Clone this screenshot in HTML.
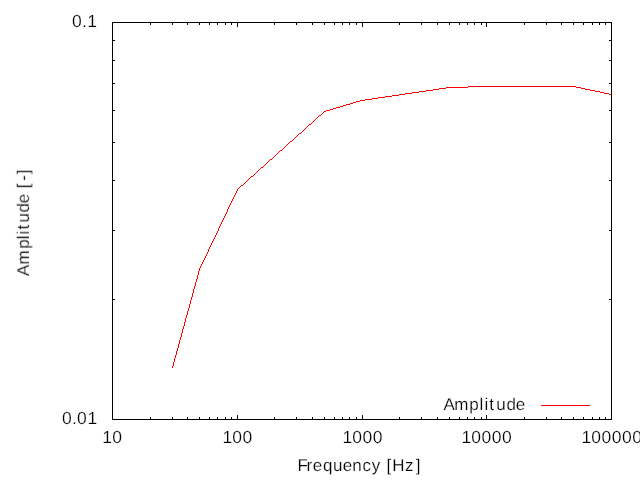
<!DOCTYPE html>
<html><head><meta charset="utf-8"><style>
html,body{margin:0;padding:0;background:#fff;}
svg{display:block;}
text{font-family:"Liberation Sans",sans-serif;fill:#000;}
.t{filter:grayscale(1);}
.t text{stroke:#fff;stroke-width:0.2px;}
</style></head><body>
<svg width="640" height="480" viewBox="0 0 640 480" shape-rendering="crispEdges">
<rect x="0" y="0" width="640" height="480" fill="#fff"/>
<g fill="#f00"><rect x="346" y="104" width="4" height="1"/><rect x="184" y="324" width="1" height="1"/><rect x="426" y="90" width="7" height="1"/><rect x="590" y="90" width="5" height="1"/><rect x="412" y="92" width="7" height="1"/><rect x="600" y="92" width="4" height="1"/><rect x="288" y="143" width="1" height="1"/><rect x="468" y="86" width="108" height="1"/><rect x="241" y="185" width="2" height="1"/><rect x="193" y="292" width="1" height="1"/><rect x="181" y="336" width="1" height="1"/><rect x="285" y="146" width="1" height="1"/><rect x="446" y="87" width="22" height="1"/><rect x="576" y="87" width="5" height="1"/><rect x="405" y="93" width="7" height="1"/><rect x="604" y="93" width="5" height="1"/><rect x="176" y="352" width="1" height="1"/><rect x="353" y="102" width="3" height="1"/><rect x="439" y="88" width="7" height="1"/><rect x="581" y="88" width="4" height="1"/><rect x="205" y="257" width="1" height="1"/><rect x="272" y="158" width="1" height="1"/><rect x="419" y="91" width="7" height="1"/><rect x="595" y="91" width="5" height="1"/><rect x="217" y="231" width="1" height="1"/><rect x="192" y="296" width="1" height="1"/><rect x="385" y="96" width="7" height="1"/><rect x="229" y="205" width="1" height="1"/><rect x="315" y="119" width="1" height="1"/><rect x="365" y="99" width="7" height="1"/><rect x="308" y="125" width="1" height="1"/><rect x="372" y="98" width="6" height="1"/><rect x="175" y="355" width="1" height="1"/><rect x="233" y="198" width="1" height="1"/><rect x="201" y="264" width="1" height="1"/><rect x="197" y="275" width="1" height="1"/><rect x="179" y="343" width="1" height="1"/><rect x="433" y="89" width="6" height="1"/><rect x="585" y="89" width="5" height="1"/><rect x="292" y="140" width="1" height="1"/><rect x="336" y="107" width="4" height="1"/><rect x="399" y="94" width="6" height="1"/><rect x="609" y="94" width="3" height="1"/><rect x="226" y="213" width="1" height="1"/><rect x="249" y="178" width="1" height="1"/><rect x="196" y="279" width="1" height="1"/><rect x="184" y="323" width="1" height="1"/><rect x="253" y="175" width="1" height="1"/><rect x="193" y="291" width="1" height="1"/><rect x="378" y="97" width="7" height="1"/><rect x="360" y="100" width="5" height="1"/><rect x="343" y="105" width="3" height="1"/><rect x="326" y="110" width="4" height="1"/><rect x="176" y="351" width="1" height="1"/><rect x="237" y="190" width="1" height="1"/><rect x="192" y="295" width="1" height="1"/><rect x="180" y="339" width="1" height="1"/><rect x="216" y="234" width="1" height="1"/><rect x="350" y="103" width="3" height="1"/><rect x="319" y="115" width="2" height="1"/><rect x="221" y="223" width="1" height="1"/><rect x="309" y="124" width="2" height="1"/><rect x="299" y="133" width="2" height="1"/><rect x="233" y="197" width="1" height="1"/><rect x="200" y="267" width="1" height="1"/><rect x="191" y="298" width="1" height="1"/><rect x="179" y="342" width="1" height="1"/><rect x="212" y="241" width="1" height="1"/><rect x="356" y="101" width="4" height="1"/><rect x="303" y="130" width="1" height="1"/><rect x="260" y="168" width="1" height="1"/><rect x="283" y="148" width="1" height="1"/><rect x="240" y="186" width="1" height="1"/><rect x="183" y="326" width="1" height="1"/><rect x="232" y="200" width="1" height="1"/><rect x="276" y="154" width="1" height="1"/><rect x="244" y="183" width="1" height="1"/><rect x="187" y="314" width="1" height="1"/><rect x="237" y="189" width="1" height="1"/><rect x="192" y="294" width="1" height="1"/><rect x="204" y="259" width="1" height="1"/><rect x="216" y="233" width="1" height="1"/><rect x="182" y="329" width="1" height="1"/><rect x="228" y="207" width="1" height="1"/><rect x="267" y="162" width="1" height="1"/><rect x="264" y="165" width="1" height="1"/><rect x="236" y="192" width="1" height="1"/><rect x="333" y="108" width="3" height="1"/><rect x="200" y="266" width="1" height="1"/><rect x="191" y="297" width="1" height="1"/><rect x="314" y="120" width="1" height="1"/><rect x="215" y="236" width="1" height="1"/><rect x="178" y="345" width="1" height="1"/><rect x="227" y="210" width="1" height="1"/><rect x="294" y="138" width="1" height="1"/><rect x="208" y="251" width="1" height="1"/><rect x="220" y="225" width="1" height="1"/><rect x="340" y="106" width="3" height="1"/><rect x="232" y="199" width="1" height="1"/><rect x="287" y="144" width="1" height="1"/><rect x="199" y="269" width="1" height="1"/><rect x="187" y="313" width="1" height="1"/><rect x="211" y="243" width="1" height="1"/><rect x="177" y="348" width="1" height="1"/><rect x="174" y="361" width="1" height="1"/><rect x="317" y="117" width="1" height="1"/><rect x="204" y="258" width="1" height="1"/><rect x="270" y="159" width="2" height="1"/><rect x="198" y="272" width="1" height="1"/><rect x="195" y="285" width="1" height="1"/><rect x="210" y="246" width="1" height="1"/><rect x="173" y="364" width="1" height="1"/><rect x="203" y="261" width="1" height="1"/><rect x="215" y="235" width="1" height="1"/><rect x="190" y="300" width="1" height="1"/><rect x="261" y="167" width="2" height="1"/><rect x="178" y="344" width="1" height="1"/><rect x="227" y="209" width="1" height="1"/><rect x="251" y="176" width="2" height="1"/><rect x="194" y="288" width="1" height="1"/><rect x="182" y="332" width="1" height="1"/><rect x="255" y="173" width="1" height="1"/><rect x="172" y="367" width="1" height="1"/><rect x="392" y="95" width="7" height="1"/><rect x="298" y="134" width="1" height="1"/><rect x="231" y="202" width="1" height="1"/><rect x="199" y="268" width="1" height="1"/><rect x="321" y="114" width="1" height="1"/><rect x="278" y="152" width="1" height="1"/><rect x="186" y="316" width="1" height="1"/><rect x="174" y="360" width="1" height="1"/><rect x="324" y="111" width="2" height="1"/><rect x="282" y="149" width="1" height="1"/><rect x="239" y="187" width="1" height="1"/><rect x="198" y="271" width="1" height="1"/><rect x="195" y="284" width="1" height="1"/><rect x="210" y="245" width="1" height="1"/><rect x="312" y="122" width="1" height="1"/><rect x="185" y="319" width="1" height="1"/><rect x="173" y="363" width="1" height="1"/><rect x="269" y="160" width="1" height="1"/><rect x="330" y="109" width="3" height="1"/><rect x="189" y="307" width="1" height="1"/><rect x="235" y="194" width="1" height="1"/><rect x="305" y="128" width="1" height="1"/><rect x="214" y="238" width="1" height="1"/><rect x="194" y="287" width="1" height="1"/><rect x="181" y="335" width="1" height="1"/><rect x="172" y="366" width="1" height="1"/><rect x="207" y="253" width="1" height="1"/><rect x="246" y="181" width="1" height="1"/><rect x="219" y="227" width="1" height="1"/><rect x="231" y="201" width="1" height="1"/><rect x="289" y="142" width="1" height="1"/><rect x="205" y="256" width="1" height="1"/><rect x="186" y="315" width="1" height="1"/><rect x="293" y="139" width="1" height="1"/><rect x="190" y="303" width="1" height="1"/><rect x="273" y="157" width="1" height="1"/><rect x="218" y="230" width="1" height="1"/><rect x="185" y="318" width="1" height="1"/><rect x="266" y="163" width="1" height="1"/><rect x="189" y="306" width="1" height="1"/><rect x="226" y="212" width="1" height="1"/><rect x="202" y="263" width="1" height="1"/><rect x="214" y="237" width="1" height="1"/><rect x="184" y="322" width="1" height="1"/><rect x="296" y="136" width="1" height="1"/><rect x="193" y="290" width="1" height="1"/><rect x="181" y="334" width="1" height="1"/><rect x="197" y="278" width="1" height="1"/><rect x="225" y="215" width="1" height="1"/><rect x="323" y="112" width="1" height="1"/><rect x="180" y="338" width="1" height="1"/><rect x="230" y="204" width="1" height="1"/><rect x="316" y="118" width="1" height="1"/><rect x="209" y="248" width="1" height="1"/><rect x="221" y="222" width="1" height="1"/><rect x="277" y="153" width="1" height="1"/><rect x="188" y="310" width="1" height="1"/><rect x="179" y="341" width="1" height="1"/><rect x="176" y="354" width="1" height="1"/><rect x="257" y="171" width="1" height="1"/><rect x="307" y="126" width="1" height="1"/><rect x="193" y="289" width="1" height="1"/><rect x="175" y="357" width="1" height="1"/><rect x="197" y="277" width="1" height="1"/><rect x="213" y="240" width="1" height="1"/><rect x="290" y="141" width="2" height="1"/><rect x="280" y="150" width="2" height="1"/><rect x="225" y="214" width="1" height="1"/><rect x="248" y="179" width="1" height="1"/><rect x="192" y="293" width="1" height="1"/><rect x="180" y="337" width="1" height="1"/><rect x="284" y="147" width="1" height="1"/><rect x="196" y="281" width="1" height="1"/><rect x="184" y="325" width="1" height="1"/><rect x="209" y="247" width="1" height="1"/><rect x="224" y="217" width="1" height="1"/><rect x="236" y="191" width="1" height="1"/><rect x="188" y="309" width="1" height="1"/><rect x="311" y="123" width="1" height="1"/><rect x="179" y="340" width="1" height="1"/><rect x="268" y="161" width="1" height="1"/><rect x="229" y="206" width="1" height="1"/><rect x="208" y="250" width="1" height="1"/><rect x="220" y="224" width="1" height="1"/><rect x="187" y="312" width="1" height="1"/><rect x="175" y="356" width="1" height="1"/><rect x="245" y="182" width="1" height="1"/><rect x="295" y="137" width="1" height="1"/><rect x="196" y="280" width="1" height="1"/><rect x="275" y="155" width="1" height="1"/><rect x="243" y="184" width="1" height="1"/><rect x="183" y="328" width="1" height="1"/><rect x="224" y="216" width="1" height="1"/><rect x="203" y="260" width="1" height="1"/><rect x="188" y="308" width="1" height="1"/><rect x="302" y="131" width="1" height="1"/><rect x="182" y="331" width="1" height="1"/><rect x="208" y="249" width="1" height="1"/><rect x="187" y="311" width="1" height="1"/><rect x="256" y="172" width="1" height="1"/><rect x="174" y="359" width="1" height="1"/><rect x="191" y="299" width="1" height="1"/><rect x="212" y="242" width="1" height="1"/><rect x="178" y="347" width="1" height="1"/><rect x="318" y="116" width="1" height="1"/><rect x="286" y="145" width="1" height="1"/><rect x="195" y="283" width="1" height="1"/><rect x="183" y="327" width="1" height="1"/><rect x="322" y="113" width="1" height="1"/><rect x="173" y="362" width="1" height="1"/><rect x="279" y="151" width="1" height="1"/><rect x="223" y="219" width="1" height="1"/><rect x="177" y="350" width="1" height="1"/><rect x="235" y="193" width="1" height="1"/><rect x="259" y="169" width="1" height="1"/><rect x="194" y="286" width="1" height="1"/><rect x="263" y="166" width="1" height="1"/><rect x="182" y="330" width="1" height="1"/><rect x="228" y="208" width="1" height="1"/><rect x="306" y="127" width="1" height="1"/><rect x="198" y="274" width="1" height="1"/><rect x="207" y="252" width="1" height="1"/><rect x="219" y="226" width="1" height="1"/><rect x="250" y="177" width="1" height="1"/><rect x="174" y="358" width="1" height="1"/><rect x="190" y="302" width="1" height="1"/><rect x="178" y="346" width="1" height="1"/><rect x="227" y="211" width="1" height="1"/><rect x="206" y="255" width="1" height="1"/><rect x="218" y="229" width="1" height="1"/><rect x="195" y="282" width="1" height="1"/><rect x="199" y="270" width="1" height="1"/><rect x="211" y="244" width="1" height="1"/><rect x="189" y="305" width="1" height="1"/><rect x="223" y="218" width="1" height="1"/><rect x="313" y="121" width="1" height="1"/><rect x="177" y="349" width="1" height="1"/><rect x="202" y="262" width="1" height="1"/><rect x="274" y="156" width="1" height="1"/><rect x="181" y="333" width="1" height="1"/><rect x="234" y="196" width="1" height="1"/><rect x="198" y="273" width="1" height="1"/><rect x="254" y="174" width="1" height="1"/><rect x="222" y="221" width="1" height="1"/><rect x="185" y="321" width="1" height="1"/><rect x="173" y="365" width="1" height="1"/><rect x="247" y="180" width="1" height="1"/><rect x="190" y="301" width="1" height="1"/><rect x="230" y="203" width="1" height="1"/><rect x="206" y="254" width="1" height="1"/><rect x="218" y="228" width="1" height="1"/><rect x="176" y="353" width="1" height="1"/><rect x="189" y="304" width="1" height="1"/><rect x="186" y="317" width="1" height="1"/><rect x="217" y="232" width="1" height="1"/><rect x="304" y="129" width="1" height="1"/><rect x="297" y="135" width="1" height="1"/><rect x="265" y="164" width="1" height="1"/><rect x="234" y="195" width="1" height="1"/><rect x="201" y="265" width="1" height="1"/><rect x="197" y="276" width="1" height="1"/><rect x="222" y="220" width="1" height="1"/><rect x="185" y="320" width="1" height="1"/><rect x="213" y="239" width="1" height="1"/><rect x="301" y="132" width="1" height="1"/><rect x="258" y="170" width="1" height="1"/><rect x="238" y="188" width="1" height="1"/><rect x="541" y="405" width="49" height="1"/></g>
<g fill="#000"><rect x="112" y="415" width="1" height="5"/><rect x="112" y="22" width="1" height="5"/><rect x="237" y="415" width="1" height="5"/><rect x="237" y="22" width="1" height="5"/><rect x="362" y="415" width="1" height="5"/><rect x="362" y="22" width="1" height="5"/><rect x="486" y="415" width="1" height="5"/><rect x="486" y="22" width="1" height="5"/><rect x="611" y="415" width="1" height="5"/><rect x="611" y="22" width="1" height="5"/><rect x="150" y="417" width="1" height="3"/><rect x="150" y="22" width="1" height="3"/><rect x="172" y="417" width="1" height="3"/><rect x="172" y="22" width="1" height="3"/><rect x="187" y="417" width="1" height="3"/><rect x="187" y="22" width="1" height="3"/><rect x="199" y="417" width="1" height="3"/><rect x="199" y="22" width="1" height="3"/><rect x="209" y="417" width="1" height="3"/><rect x="209" y="22" width="1" height="3"/><rect x="217" y="417" width="1" height="3"/><rect x="217" y="22" width="1" height="3"/><rect x="225" y="417" width="1" height="3"/><rect x="225" y="22" width="1" height="3"/><rect x="231" y="417" width="1" height="3"/><rect x="231" y="22" width="1" height="3"/><rect x="274" y="417" width="1" height="3"/><rect x="274" y="22" width="1" height="3"/><rect x="296" y="417" width="1" height="3"/><rect x="296" y="22" width="1" height="3"/><rect x="312" y="417" width="1" height="3"/><rect x="312" y="22" width="1" height="3"/><rect x="324" y="417" width="1" height="3"/><rect x="324" y="22" width="1" height="3"/><rect x="334" y="417" width="1" height="3"/><rect x="334" y="22" width="1" height="3"/><rect x="342" y="417" width="1" height="3"/><rect x="342" y="22" width="1" height="3"/><rect x="349" y="417" width="1" height="3"/><rect x="349" y="22" width="1" height="3"/><rect x="356" y="417" width="1" height="3"/><rect x="356" y="22" width="1" height="3"/><rect x="399" y="417" width="1" height="3"/><rect x="399" y="22" width="1" height="3"/><rect x="421" y="417" width="1" height="3"/><rect x="421" y="22" width="1" height="3"/><rect x="437" y="417" width="1" height="3"/><rect x="437" y="22" width="1" height="3"/><rect x="449" y="417" width="1" height="3"/><rect x="449" y="22" width="1" height="3"/><rect x="459" y="417" width="1" height="3"/><rect x="459" y="22" width="1" height="3"/><rect x="467" y="417" width="1" height="3"/><rect x="467" y="22" width="1" height="3"/><rect x="474" y="417" width="1" height="3"/><rect x="474" y="22" width="1" height="3"/><rect x="481" y="417" width="1" height="3"/><rect x="481" y="22" width="1" height="3"/><rect x="524" y="417" width="1" height="3"/><rect x="524" y="22" width="1" height="3"/><rect x="546" y="417" width="1" height="3"/><rect x="546" y="22" width="1" height="3"/><rect x="561" y="417" width="1" height="3"/><rect x="561" y="22" width="1" height="3"/><rect x="573" y="417" width="1" height="3"/><rect x="573" y="22" width="1" height="3"/><rect x="583" y="417" width="1" height="3"/><rect x="583" y="22" width="1" height="3"/><rect x="592" y="417" width="1" height="3"/><rect x="592" y="22" width="1" height="3"/><rect x="599" y="417" width="1" height="3"/><rect x="599" y="22" width="1" height="3"/><rect x="605" y="417" width="1" height="3"/><rect x="605" y="22" width="1" height="3"/><rect x="112" y="299" width="3" height="1"/><rect x="609" y="299" width="3" height="1"/><rect x="112" y="230" width="3" height="1"/><rect x="609" y="230" width="3" height="1"/><rect x="112" y="180" width="3" height="1"/><rect x="609" y="180" width="3" height="1"/><rect x="112" y="142" width="3" height="1"/><rect x="609" y="142" width="3" height="1"/><rect x="112" y="110" width="3" height="1"/><rect x="609" y="110" width="3" height="1"/><rect x="112" y="83" width="3" height="1"/><rect x="609" y="83" width="3" height="1"/><rect x="112" y="60" width="3" height="1"/><rect x="609" y="60" width="3" height="1"/><rect x="112" y="40" width="3" height="1"/><rect x="609" y="40" width="3" height="1"/><rect x="112" y="22" width="500" height="1"/><rect x="112" y="419" width="500" height="1"/><rect x="112" y="22" width="1" height="398"/><rect x="611" y="22" width="1" height="398"/></g>
<g class="t" text-rendering="geometricPrecision">
<text x="102.33 112.17" y="443" font-size="17.5">10</text>
<text x="222.43 232.27 242.49" y="443" font-size="17.5">100</text>
<text x="342.43 352.27 362.49 372.71" y="443" font-size="17.5">1000</text>
<text x="461.43 471.27 481.49 491.71 501.93" y="443" font-size="17.5">10000</text>
<text x="581.43 591.27 601.49 611.71 621.93 632.15" y="443" font-size="17.5">100000</text>
<text x="72.09 81.96 87.36" y="27" font-size="17.5">0.1</text>
<text x="61.94 72.11 76.96 87.44" y="424" font-size="17.5">0.01</text>
<text x="297.52 306.52 312.75 323.00 333.12 342.75 352.30 362.48 371.65 382.00 386.48 392.15 405.10 415.77" y="470.9" font-size="17">Frequency [Hz]</text>
<text x="443.57 454.32 469.32 479.55 484.60 489.18 496.27 506.55 515.65" y="409.8" font-size="17">Amplitude</text>
<g transform="translate(28.9,275.75) rotate(-90)"><text x="-0.30 11.27 26.92 36.55 41.25 46.27 53.23 63.30 72.55 84.00 87.55 95.03 101.42" y="0" font-size="17">Amplitude [-]</text></g>
</g>

</svg>
</body></html>
